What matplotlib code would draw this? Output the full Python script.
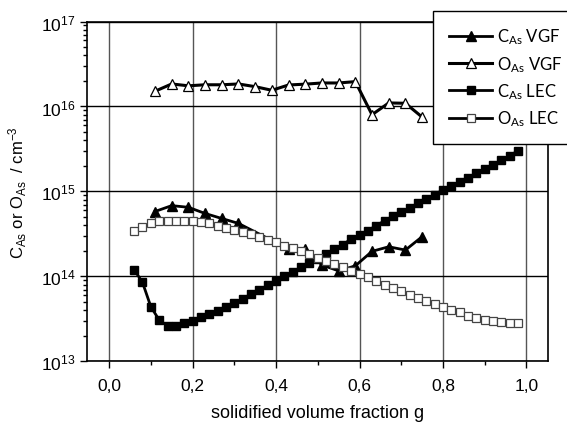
import math
import matplotlib
matplotlib.use('Agg')
import matplotlib.pyplot as plt
from matplotlib.ticker import FixedLocator, LogLocator, NullFormatter, FuncFormatter

plt.rcParams['font.family'] = ['Liberation Sans', 'DejaVu Sans']
plt.rcParams['mathtext.default'] = 'regular'

# C_As VGF (filled triangles)
g_c_vgf = [0.11, 0.15, 0.19, 0.23, 0.27, 0.31, 0.43, 0.47, 0.51, 0.55, 0.59,
           0.63, 0.67, 0.71, 0.75]
c_vgf = [5.8e14, 6.8e14, 6.5e14, 5.5e14, 4.8e14, 4.2e14, 2.1e14, 2.1e14, 1.36e14,
         1.16e14, 1.33e14, 1.97e14, 2.23e14, 2.04e14, 2.93e14]

# O_As VGF (open triangles)
g_o_vgf = [0.11, 0.15, 0.19, 0.23, 0.27, 0.31, 0.35, 0.39, 0.43, 0.47, 0.51,
           0.55, 0.59, 0.63, 0.67, 0.71, 0.75]
o_vgf = [1.51e16, 1.84e16, 1.75e16, 1.80e16, 1.80e16, 1.84e16, 1.71e16, 1.55e16,
         1.79e16, 1.83e16, 1.89e16, 1.89e16, 1.96e16, 8.0e15, 1.10e16, 1.09e16,
         7.5e15]

# LEC data (both series share the same g values)
g_lec = [0.06, 0.08, 0.10, 0.12, 0.14, 0.16, 0.18, 0.20, 0.22, 0.24, 0.26, 0.28,
         0.30, 0.32, 0.34, 0.36, 0.38, 0.40, 0.42, 0.44, 0.46, 0.48, 0.50, 0.52,
         0.54, 0.56, 0.58, 0.60, 0.62, 0.64, 0.66, 0.68, 0.70, 0.72, 0.74, 0.76,
         0.78, 0.80, 0.82, 0.84, 0.86, 0.88, 0.90, 0.92, 0.94, 0.96, 0.98]
c_lec = [1.20e14, 8.5e13, 4.4e13, 3.06e13, 2.62e13, 2.62e13, 2.82e13, 2.98e13,
         3.30e13, 3.61e13, 3.94e13, 4.4e13, 4.86e13, 5.41e13, 6.2e13, 6.9e13,
         7.9e13, 8.9e13, 1.00e14, 1.12e14, 1.29e14, 1.44e14, 1.61e14, 1.83e14,
         2.10e14, 2.36e14, 2.75e14, 3.07e14, 3.45e14, 3.95e14, 4.52e14, 5.09e14,
         5.67e14, 6.38e14, 7.24e14, 8.14e14, 9.15e14, 1.04e15, 1.17e15, 1.30e15,
         1.45e15, 1.63e15, 1.84e15, 2.06e15, 2.32e15, 2.63e15, 3.01e15]
o_lec = [3.45e14, 3.84e14, 4.21e14, 4.45e14, 4.52e14, 4.52e14, 4.52e14, 4.45e14,
         4.33e14, 4.21e14, 3.95e14, 3.74e14, 3.54e14, 3.36e14, 3.15e14, 2.93e14,
         2.70e14, 2.52e14, 2.30e14, 2.14e14, 2.00e14, 1.82e14, 1.66e14, 1.50e14,
         1.40e14, 1.30e14, 1.16e14, 1.07e14, 9.9e13, 8.9e13, 7.98e13, 7.3e13,
         6.67e13, 6.08e13, 5.56e13, 5.08e13, 4.73e13, 4.32e13, 4.05e13, 3.78e13,
         3.44e13, 3.24e13, 3.06e13, 2.96e13, 2.88e13, 2.80e13, 2.80e13]

x_ticks = [0.0, 0.2, 0.4, 0.6, 0.8, 1.0]
y_ticks = [1e13, 1e14, 1e15, 1e16, 1e17]

fig = plt.figure(figsize=(5.67, 4.27), dpi=100)
ax = fig.add_axes([0.1534, 0.1515, 0.8126, 0.7958])

ax.plot(g_c_vgf, c_vgf, '-', color='black', lw=2.0, marker='^', ms=7.5,
        mfc='black', mec='black', label=r'C$_{As}$ VGF', zorder=3)
ax.plot(g_o_vgf, o_vgf, '-', color='black', lw=2.2, marker='^', ms=7.5,
        mfc='white', mec='black', mew=0.9, label=r'O$_{As}$ VGF', zorder=3)
ax.plot(g_lec, c_lec, '-', color='black', lw=2.0, marker='s', ms=6,
        mfc='black', mec='black', label=r'C$_{As}$ LEC', zorder=3)
ax.plot(g_lec, o_lec, '-', color='black', lw=2.0, marker='s', ms=6,
        mfc='white', mec='#444444', mew=0.9, label=r'O$_{As}$ LEC', zorder=4)

ax.set_yscale('log')
ax.set_ylim(1e13, 1e17)
ax.set_xlim(-0.053, 1.051)

ax.xaxis.set_major_locator(FixedLocator(x_ticks))
ax.xaxis.set_minor_locator(FixedLocator([0.1, 0.3, 0.5, 0.7, 0.9]))
ax.xaxis.set_major_formatter(FuncFormatter(lambda v, p: f'{v:.1f}'.replace('.', ',')))
ax.yaxis.set_major_locator(FixedLocator(y_ticks))
ax.yaxis.set_minor_locator(LogLocator(base=10, subs=range(2, 10)))
ax.yaxis.set_minor_formatter(NullFormatter())
ax.yaxis.set_major_formatter(FuncFormatter(lambda v, p: r'$10^{%d}$' % round(math.log10(v))))

ax.tick_params(which='both', direction='out', labelsize=12.5, width=1)
ax.tick_params(which='major', length=5)
ax.tick_params(which='minor', length=3)
ax.tick_params(axis='x', pad=7)

ax.xaxis.grid(True, which='major', color='#555555', lw=1)
ax.yaxis.grid(True, which='major', color='black', lw=1)
ax.set_axisbelow(True)
for s in ax.spines.values():
    s.set_linewidth(1.2)

ax.set_xlabel('solidified volume fraction g', fontsize=13, labelpad=8)
ax.set_ylabel(r'C$_{As}$ or O$_{As}$  / cm$^{-3}$', fontsize=12, labelpad=8)

leg = fig.legend(loc='upper left', bbox_to_anchor=(0.764, 0.972),
                 frameon=True, fancybox=False, edgecolor='black', framealpha=1,
                 prop={'family': 'Lato', 'size': 12}, handlelength=2.6,
                 handletextpad=0.3, labelspacing=0.45, borderpad=0.95,
                 borderaxespad=0)
leg.get_frame().set_linewidth(1)

fig.savefig('out.png', dpi=100)
